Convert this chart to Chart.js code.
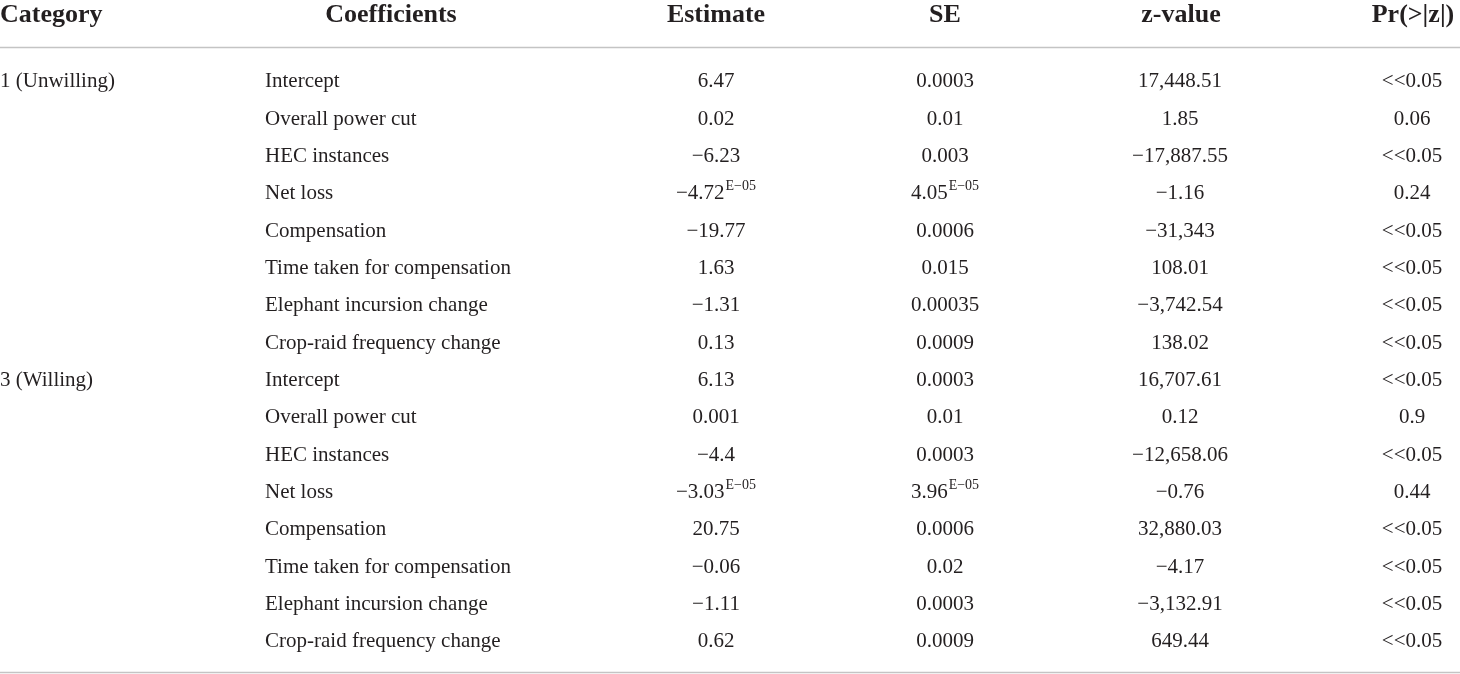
<!DOCTYPE html>
<html>
<head>
<meta charset="utf-8">
<script src="https://cdn.jsdelivr.net/npm/chart.js@4"></script>
<style>
html,body{margin:0;padding:0;background:#fff;}
#wrap{width:1460px;height:674px;}
</style>
</head>
<body>
<div id="wrap"><canvas id="c" width="1460" height="674"></canvas></div>
<script>
const headers = ["Category","Coefficients","Estimate","SE","z-value","Pr(>|z|)"];
const categories = ["1 (Unwilling)", "3 (Willing)"];
const coefficients = ["Intercept","Overall power cut","HEC instances","Net loss","Compensation","Time taken for compensation","Elephant incursion change","Crop-raid frequency change"];
const estimate1 = ["6.47","0.02","\u22126.23","\u22124.72E\u221205","\u221219.77","1.63","\u22121.31","0.13"];
const se1 = ["0.0003","0.01","0.003","4.05E\u221205","0.0006","0.015","0.00035","0.0009"];
const z1 = ["17,448.51","1.85","\u221217,887.55","\u22121.16","\u221231,343","108.01","\u22123,742.54","138.02"];
const p1 = ["<<0.05","0.06","<<0.05","0.24","<<0.05","<<0.05","<<0.05","<<0.05"];
const estimate3 = ["6.13","0.001","\u22124.4","\u22123.03E\u221205","20.75","\u22120.06","\u22121.11","0.62"];
const se3 = ["0.0003","0.01","0.0003","3.96E\u221205","0.0006","0.02","0.0003","0.0009"];
const z3 = ["16,707.61","0.12","\u221212,658.06","\u22120.76","32,880.03","\u22124.17","\u22123,132.91","649.44"];
const p3 = ["<<0.05","0.9","<<0.05","0.44","<<0.05","<<0.05","<<0.05","<<0.05"];

// layout (x in scale units, y in row units)
const layout = {
  headerRow: -1.749,
  ruleTop: -1.079,
  ruleBottom: 15.662,
  headerX: [0, 391, 716, 945, 1181, 1413],
  headerAlign: ['left','center','center','center','center','center'],
  colX: [0, 265, 716, 945, 1180, 1412],
  colAlign: ['left','left','center','center','center','center']
};

const rows = [];
const groups = [
  {cat: categories[0], est: estimate1, se: se1, z: z1, p: p1},
  {cat: categories[1], est: estimate3, se: se3, z: z3, p: p3}
];
groups.forEach(g => {
  coefficients.forEach((c, i) => {
    rows.push([i === 0 ? g.cat : "", c, g.est[i], g.se[i], g.z[i], g.p[i]]);
  });
});

const SERIF = '"Liberation Serif", "Times New Roman", serif';
const BODY = 21, HEAD = 26, SUP = 14;
const INK = '#231f20';

function drawCell(ctx, text, x, y, align) {
  const parts = text.split(/(?=E\u2212\d)/);
  if (parts.length === 2 && /^[\u2212\d.]+$/.test(parts[0])) {
    ctx.font = BODY + 'px ' + SERIF;
    const w1 = ctx.measureText(parts[0]).width;
    ctx.font = SUP + 'px ' + SERIF;
    const w2 = ctx.measureText(parts[1]).width;
    const total = w1 + w2 + 1;
    let left = align === 'center' ? x - total / 2 : x;
    ctx.textAlign = 'left';
    ctx.font = BODY + 'px ' + SERIF;
    ctx.fillText(parts[0], left, y);
    ctx.font = SUP + 'px ' + SERIF;
    ctx.fillText(parts[1], left + w1 + 1, y - 9);
  } else {
    ctx.font = BODY + 'px ' + SERIF;
    ctx.textAlign = align;
    ctx.fillText(text, x, y);
  }
}

const tablePlugin = {
  id: 'tableText',
  afterDraw(chart) {
    const ctx = chart.ctx;
    const xs = chart.scales.x, ys = chart.scales.y;
    ctx.save();
    ctx.fillStyle = INK;
    ctx.textBaseline = 'alphabetic';
    // header
    ctx.font = 'bold ' + HEAD + 'px ' + SERIF;
    const hy = ys.getPixelForValue(layout.headerRow);
    headers.forEach((h, j) => {
      ctx.textAlign = layout.headerAlign[j];
      ctx.fillText(h, xs.getPixelForValue(layout.headerX[j]), hy);
    });
    // rules
    ctx.strokeStyle = '#c4c4c4';
    ctx.lineWidth = 1.5;
    [layout.ruleTop, layout.ruleBottom].forEach(v => {
      const py = Math.round(ys.getPixelForValue(v)) + 0.5;
      ctx.beginPath();
      ctx.moveTo(xs.left, py);
      ctx.lineTo(xs.right, py);
      ctx.stroke();
    });
    // body
    rows.forEach((r, i) => {
      const py = ys.getPixelForValue(i);
      r.forEach((cell, j) => {
        if (!cell) return;
        drawCell(ctx, cell, xs.getPixelForValue(layout.colX[j]), py, layout.colAlign[j]);
      });
    });
    ctx.restore();
  }
};

new Chart(document.getElementById('c'), {
  type: 'scatter',
  data: { datasets: [{ data: [], pointRadius: 0 }] },
  options: {
    responsive: false,
    animation: false,
    events: [],
    layout: { padding: 0 },
    plugins: { legend: { display: false }, tooltip: { enabled: false }, title: { display: false } },
    scales: {
      x: { type: 'linear', min: 0, max: 1460, display: false },
      y: { type: 'linear', min: -2.338, max: 15.716, reverse: true, display: false }
    }
  },
  plugins: [tablePlugin]
});
</script>
</body>
</html>
